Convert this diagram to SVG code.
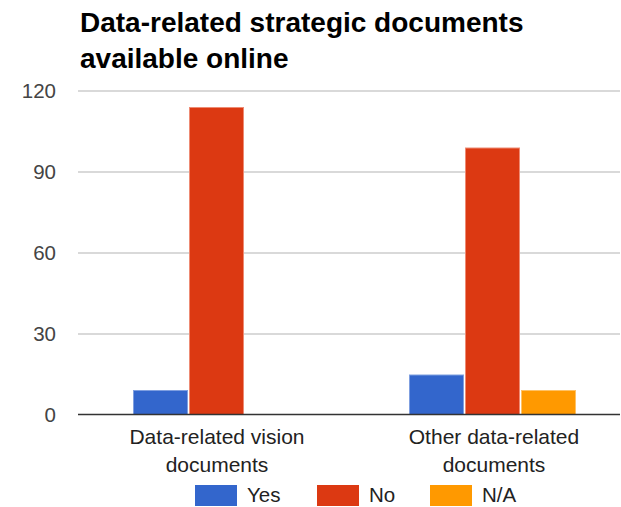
<svg xmlns="http://www.w3.org/2000/svg" width="621" height="507" viewBox="0 0 621 507">
<style>
.title{font-family:"Liberation Sans",Arial,sans-serif;font-weight:bold;font-size:28px;fill:#000}
.ax{font-family:"Liberation Sans",Arial,sans-serif;font-size:20.5px;fill:#444;text-anchor:end}
.cat{font-family:"Liberation Sans",Arial,sans-serif;font-size:21px;fill:#222;text-anchor:middle}
.leg{font-family:"Liberation Sans",Arial,sans-serif;font-size:20.5px;fill:#222}
.grid{stroke:#ccc;stroke-width:1.5}
.base{stroke:#333;stroke-width:1.5}
.yes{fill:#3366cc;stroke:#7f9fe0;stroke-width:1}
.no{fill:#dc3912;stroke:#ee8b74;stroke-width:1}
.na{fill:#ff9900;stroke:#ffc266;stroke-width:1}
</style>
<rect width="621" height="507" fill="#fff"/>
<g id="title">
<text class="title" x="80" y="32">Data-related strategic documents</text>
<text class="title" x="80" y="68">available online</text>
</g>
<g id="grid">
<line class="grid" x1="78" y1="91" x2="620" y2="91"/>
<line class="grid" x1="78" y1="172" x2="620" y2="172"/>
<line class="grid" x1="78" y1="253" x2="620" y2="253"/>
<line class="grid" x1="78" y1="334" x2="620" y2="334"/>
</g>
<g id="yaxis">
<text class="ax" x="56" y="98">120</text>
<text class="ax" x="56" y="179">90</text>
<text class="ax" x="56" y="260">60</text>
<text class="ax" x="56" y="341">30</text>
<text class="ax" x="56" y="422">0</text>
</g>
<g id="bars">
<rect id="bar-vision-yes" class="yes" x="133.5" y="390.5" width="54" height="24"/>
<rect id="bar-vision-no" class="no" x="189.5" y="107.5" width="54" height="307"/>
<rect id="bar-other-yes" class="yes" x="409.5" y="375" width="54" height="39.5"/>
<rect id="bar-other-no" class="no" x="465.5" y="148" width="54" height="266.5"/>
<rect id="bar-other-na" class="na" x="521.5" y="390.5" width="54" height="24"/>
</g>
<line class="base" x1="78" y1="414.5" x2="620" y2="414.5"/>
<g id="xaxis">
<text class="cat" x="217" y="444">Data-related vision</text>
<text class="cat" x="217" y="472">documents</text>
<text class="cat" x="494" y="444">Other data-related</text>
<text class="cat" x="494" y="472">documents</text>
</g>
<g id="legend">
<rect x="195" y="485" width="42" height="21" fill="#3366cc"/>
<text class="leg" x="247" y="502">Yes</text>
<rect x="317" y="485" width="42" height="21" fill="#dc3912"/>
<text class="leg" x="369" y="502">No</text>
<rect x="430" y="485" width="42" height="21" fill="#ff9900"/>
<text class="leg" x="482" y="502">N/A</text>
</g>
</svg>
